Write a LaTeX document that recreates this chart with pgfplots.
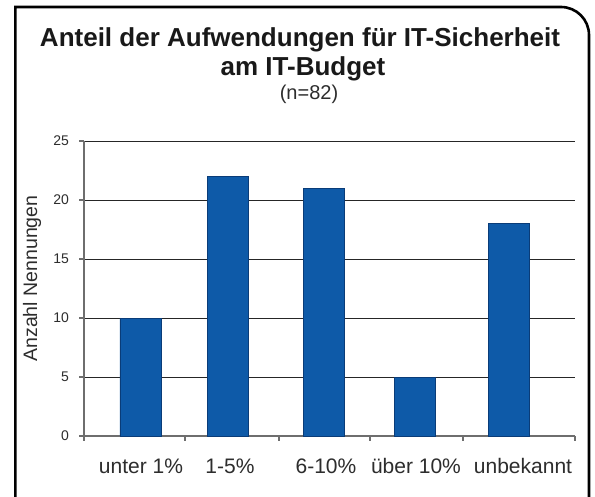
\documentclass[border=0pt]{standalone}
\usepackage{pgfplots}
\pgfplotsset{compat=1.18}
\usepackage{fontspec}
\setmainfont{Liberation Sans}
\definecolor{barblue}{RGB}{14,90,168}
\definecolor{baredge}{RGB}{10,60,120}
\definecolor{txt}{RGB}{45,45,45}
\definecolor{axgray}{RGB}{110,110,110}
\begin{document}
\begin{tikzpicture}[x=1pt,y=1pt]
\path[use as bounding box] (0,0) rectangle (595,496);
\clip (0,0) rectangle (595,496);
\fill[white] (0,0) rectangle (595,496);
\draw[line width=2.6pt, line join=miter] (15.3,-10) -- (15.3,489) -- (561,489) arc[start angle=90, end angle=0, radius=28] -- (589,-10);
\node[anchor=base, font=\bfseries\fontsize{26}{28}\selectfont, text=black!90] at (300,449) {Anteil der Aufwendungen für IT-Sicherheit};
\node[anchor=base, font=\bfseries\fontsize{26}{28}\selectfont, text=black!90] at (303,420) {am IT-Budget};
\node[anchor=base, font=\fontsize{20}{22}\selectfont, text=txt] at (309,396) {(n=82)};
\node[rotate=90, font=\fontsize{19.5}{21}\selectfont, text=txt] at (32,217.5) {Anzahl Nennungen};
\begin{axis}[
  at={(84pt,60pt)}, anchor=south west, scale only axis,
  width=491pt, height=295pt,
  xmin=84, xmax=575, ymin=0, ymax=25,
  axis x line*=bottom, axis y line*=left,
  axis line style={draw=axgray, line width=1.3pt},
  ymajorgrids, grid style={draw=black!85, line width=0.9pt},
  tick align=outside,
  ytick={0,5,10,15,20,25},
  major tick length=4.5pt,
  tick style={draw=axgray, line width=1.1pt},
  xtick={84,185,279,370,463,575},
  xticklabels={},
  extra x ticks={141,230,326,416,523},
  extra x tick labels={unter 1\%, 1-5\%, 6-10\%, über 10\%, unbekannt},
  extra x tick style={major tick length=0pt, grid=none},
  /pgf/number format/assume math mode=true,
  yticklabel style={font=\fontsize{14}{15}\selectfont, text=txt, xshift=-7pt},
  xticklabel style={font=\fontsize{21}{22}\selectfont, text=txt, anchor=base, yshift=-37pt},
  clip=false,
]
\addplot[ybar, bar width=41pt, fill=barblue, draw=baredge, line width=0.6pt]
  coordinates {(140.5,10) (228,22) (323.5,21) (415,5) (508.5,18)};
\end{axis}
\end{tikzpicture}
\end{document}
